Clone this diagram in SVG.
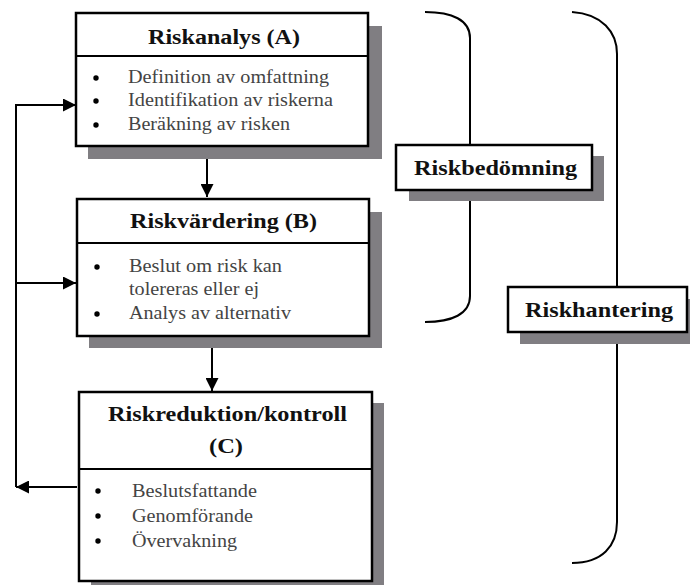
<svg xmlns="http://www.w3.org/2000/svg" width="690" height="585" viewBox="0 0 690 585">
<style>
.box{fill:#fff;stroke:#000;stroke-width:2.5}
.sh{fill:#807e82}
.ttl{font-family:"Liberation Serif",serif;font-weight:bold;font-size:20px;fill:#111}
.lbl{font-family:"Liberation Serif",serif;font-weight:bold;font-size:21px;fill:#111}
.itm{font-family:"Liberation Serif",serif;font-size:18px;fill:#444}
.dot{fill:#000}
.ln{fill:none;stroke:#000;stroke-width:2}
</style>
<defs>
<marker id="ah" viewBox="0 0 13 13" refX="13" refY="6.5" markerWidth="13" markerHeight="13" markerUnits="userSpaceOnUse" orient="auto">
<path d="M0,0 L13,6.5 L0,13 Z" fill="#000"/>
</marker>
</defs>

<g id="connectors">
<line class="ln" x1="207" y1="147" x2="207" y2="197" marker-end="url(#ah)"/>
<line class="ln" x1="212" y1="345" x2="212" y2="391" marker-end="url(#ah)"/>
<polyline class="ln" points="77,487 16,487" marker-end="url(#ah)"/>
<line class="ln" x1="16" y1="487" x2="16" y2="104"/>
<line class="ln" x1="15" y1="105" x2="76" y2="105" marker-end="url(#ah)"/>
<line class="ln" x1="15" y1="283" x2="76" y2="283" marker-end="url(#ah)"/>
<path class="ln" d="M425,12 C452,12 470,20 470,38 L470,145"/>
<path class="ln" d="M470,201 L470,296 C470,314 452,322 425,322"/>
<path class="ln" d="M572,12 C602,14 617,32 617,54 L617,287"/>
<path class="ln" d="M617,344 L617,522 C617,546 602,563 572,563"/>
</g>

<g id="riskanalys">
<rect class="sh" x="88" y="26" width="294" height="133"/>
<rect class="box" x="76" y="13" width="292" height="133"/>
<line class="ln" x1="76" y1="56" x2="368" y2="56" stroke-width="2.5"/>
<text class="ttl" x="148" y="44" textLength="152" lengthAdjust="spacingAndGlyphs">Riskanalys (A)</text>
<circle class="dot" cx="96" cy="78" r="2.7"/>
<circle class="dot" cx="96" cy="101" r="2.7"/>
<circle class="dot" cx="96" cy="125" r="2.7"/>
<text class="itm" x="128" y="83" textLength="201" lengthAdjust="spacingAndGlyphs">Definition av omfattning</text>
<text class="itm" x="128" y="106" textLength="205" lengthAdjust="spacingAndGlyphs">Identifikation av riskerna</text>
<text class="itm" x="128" y="130" textLength="162" lengthAdjust="spacingAndGlyphs">Beräkning av risken</text>
</g>

<g id="riskvardering">
<rect class="sh" x="89" y="212" width="293" height="136"/>
<rect class="box" x="77" y="199" width="292" height="137"/>
<line class="ln" x1="77" y1="243" x2="369" y2="243" stroke-width="2.5"/>
<text class="ttl" x="130" y="228" textLength="187" lengthAdjust="spacingAndGlyphs">Riskvärdering (B)</text>
<circle class="dot" cx="97" cy="267" r="2.7"/>
<circle class="dot" cx="97" cy="314" r="2.7"/>
<text class="itm" x="129" y="272" textLength="153" lengthAdjust="spacingAndGlyphs">Beslut om risk kan</text>
<text class="itm" x="129" y="295" textLength="130" lengthAdjust="spacingAndGlyphs">tolereras eller ej</text>
<text class="itm" x="129" y="319" textLength="162" lengthAdjust="spacingAndGlyphs">Analys av alternativ</text>
</g>

<g id="riskreduktion">
<rect class="sh" x="91" y="403" width="293" height="190"/>
<rect class="box" x="79" y="392" width="293" height="189"/>
<line class="ln" x1="79" y1="469" x2="372" y2="469" stroke-width="2.5"/>
<text class="ttl" x="108" y="421" textLength="239" lengthAdjust="spacingAndGlyphs">Riskreduktion/kontroll</text>
<text class="ttl" x="209" y="453" textLength="34" lengthAdjust="spacingAndGlyphs">(C)</text>
<circle class="dot" cx="98" cy="491" r="2.7"/>
<circle class="dot" cx="98" cy="516" r="2.7"/>
<circle class="dot" cx="98" cy="541" r="2.7"/>
<text class="itm" x="132" y="497" textLength="125" lengthAdjust="spacingAndGlyphs">Beslutsfattande</text>
<text class="itm" x="132" y="522" textLength="121" lengthAdjust="spacingAndGlyphs">Genomförande</text>
<text class="itm" x="132" y="547" textLength="105" lengthAdjust="spacingAndGlyphs">Övervakning</text>
</g>

<g id="riskbedomning">
<rect class="sh" x="409" y="156" width="195" height="45"/>
<rect class="box" x="396" y="145" width="196" height="45"/>
<text class="lbl" x="414" y="175" textLength="163" lengthAdjust="spacingAndGlyphs">Riskbedömning</text>
</g>

<g id="riskhantering">
<rect class="sh" x="520" y="299" width="175" height="45"/>
<rect class="box" x="508" y="287" width="179" height="45"/>
<text class="lbl" x="525" y="317" textLength="148" lengthAdjust="spacingAndGlyphs">Riskhantering</text>
</g>
</svg>
